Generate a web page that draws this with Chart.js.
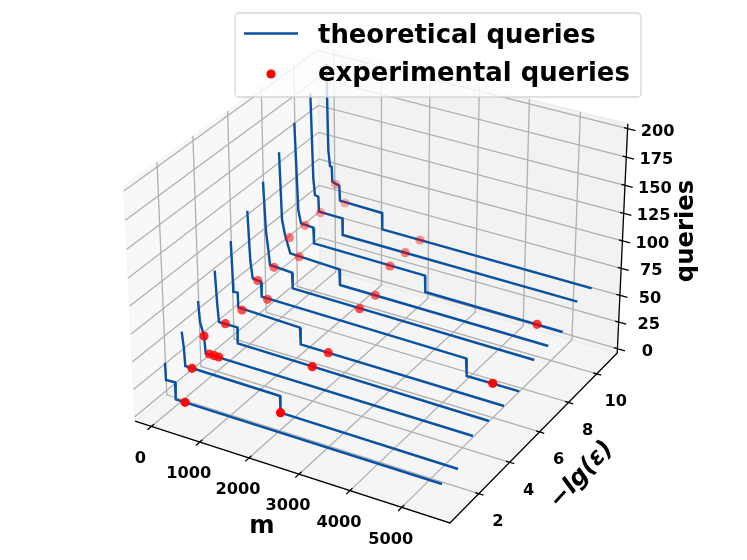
<!DOCTYPE html>
<html><head><meta charset="utf-8"><style>html,body{margin:0;background:#fff}canvas{display:block}</style>
<script src="https://cdn.jsdelivr.net/npm/chart.js@4"></script></head>
<body><canvas id="c" width="747" height="560"></canvas>
<script>
const lgEps=[0.9,1.9,2.9,3.9,4.9,5.9,6.8,7.8,8.8,9.8,10.8];
const traced=[
[[165,362.7],[166,380],[175,382.3],[175.7,399.3],[442,484]],
[[181.7,331.7],[184,349.3],[185.3,366],[280,396],[280.5,412.7],[458,469]],
[[198,301],[200,321.7],[204,336],[205.7,353.3],[473,436]],
[[214.7,270.7],[217.3,305],[219,322],[237.3,327.3],[237.7,343.3],[489,421]],
[[230.7,241],[233,283],[233.3,291.7],[237.7,292.7],[238.3,307.3],[300,327.7],[300.7,344.3],[504,406]],
[[247.3,210.7],[250.3,260.7],[252.7,278.3],[261,281.7],[261.7,296.7],[466,358.3],[466.7,376],[519.3,391.3]],
[[263,181.7],[266,231.7],[268.3,249.3],[270,265],[292,272.7],[292.7,288.3],[534.3,360]],
[[279,152.3],[282,219.3],[285,235],[290.3,253.3],[339.3,269.3],[340,285],[548.3,346]],
[[294.3,122.7],[298.3,210],[301,223.3],[313.3,227.7],[314,243.3],[425,275.7],[425.3,292],[562.7,332]],
[[310.3,93.3],[313.3,178.3],[315,195],[318.3,196.7],[319,211.7],[342.3,218.3],[342.7,235],[577.3,301.7]],
[[326.3,64],[328.3,150],[330,166],[331.7,166.7],[332.3,181.7],[339.3,185.7],[340,200.7],[382,213],[382.3,229.3],[591.7,288.3]]];
const tracedPts=[[0,185,402.3],[1,192,368.3],[1,280.5,412.7],[2,204,336],[2,209.3,354],[2,214.3,355.7],[2,218.7,357],[3,225.3,323.7],[3,312.3,366.7],[4,242,310],[4,328.3,352.7],[5,257.7,280.5],[5,267.5,299.3],[5,492.7,383.3],[6,274,267.3],[6,359.7,308.7],[7,289.3,237.7],[7,299.2,256.7],[7,375.3,295.3],[8,305,225.3],[8,390,266],[8,537,324.3],[9,320.5,212.7],[9,405.3,252.7],[10,335.7,184.3],[10,345,203],[10,420,240]];
const xTicks=[0,1000,2000,3000,4000,5000],yTicks=[2,4,6,8,10],zTicks=[0,25,50,75,100,125,150,175,200];
const xLim=[-215,5792],yLim=[0.42,11.27],zLim=[0,200];
const sx=303,sy=300,cx=380.6,cy=273;
const U=[0.866025,0.5,0],V=[-0.25,0.433013,0.866025],W=[0.433013,-0.75,0.5];
function proj(m,y,q){
  const d=[((m-xLim[0])/(xLim[1]-xLim[0])-0.5)*1.1429,((y-yLim[0])/(yLim[1]-yLim[0])-0.5)*1.1429,((q-zLim[0])/(zLim[1]-zLim[0])-0.5)*0.8572];
  const dot=(a)=>a[0]*d[0]+a[1]*d[1]+a[2]*d[2];
  const depth=dot(W),f=10/(10-depth);
  return {x:dot(U)*f,y:dot(V)*f,depth};
}
function toScreen(p){return [cx+sx*p.x,cy-sy*p.y];}
function invert(y,px,py){
  let m=2000,q=50;
  for(let i=0;i<8;i++){
    const a=toScreen(proj(m,y,q)),b=toScreen(proj(m+1,y,q)),c=toScreen(proj(m,y,q+1));
    const j=[b[0]-a[0],c[0]-a[0],b[1]-a[1],c[1]-a[1]],ex=px-a[0],ey=py-a[1],det=j[0]*j[3]-j[1]*j[2];
    m+=(ex*j[3]-j[1]*ey)/det;q+=(j[0]*ey-j[2]*ex)/det;
  }
  return [m,q];
}
const dx=(xLim[1]-xLim[0])/48,dy=(yLim[1]-yLim[0])/48,dz=(zLim[1]-zLim[0])/48;
const P={x0:xLim[0]-dx,x1:xLim[1]+dx,y0:yLim[0]-dy,y1:yLim[1]+dy,z0:zLim[0]-dz,z1:zLim[1]+dz};
const poly=(pts,o)=>Object.assign({data:pts.map(a=>proj(a[0],a[1],a[2])),showLine:true,pointRadius:0,borderWidth:1.3,tension:0,fill:false},o);
const ds=[];
ds.push(poly([[P.x0,P.y0,P.z0],[P.x0,P.y1,P.z0],[P.x0,P.y1,P.z1],[P.x0,P.y0,P.z1],[P.x0,P.y0,P.z0]],{fill:'shape',backgroundColor:'rgba(242,242,242,.5)',borderColor:'rgba(242,242,242,.5)'}));
ds.push(poly([[P.x0,P.y1,P.z0],[P.x1,P.y1,P.z0],[P.x1,P.y1,P.z1],[P.x0,P.y1,P.z1],[P.x0,P.y1,P.z0]],{fill:'shape',backgroundColor:'rgba(230,230,230,.5)',borderColor:'rgba(230,230,230,.5)'}));
ds.push(poly([[P.x0,P.y0,P.z0],[P.x1,P.y0,P.z0],[P.x1,P.y1,P.z0],[P.x0,P.y1,P.z0],[P.x0,P.y0,P.z0]],{fill:'shape',backgroundColor:'rgba(236,236,236,.5)',borderColor:'rgba(236,236,236,.5)'}));
const grid='#b0b0b0';
for(const t of xTicks)ds.push(poly([[t,P.y0,P.z0],[t,P.y1,P.z0],[t,P.y1,P.z1]],{borderColor:grid}));
for(const t of yTicks)ds.push(poly([[P.x1,t,P.z0],[P.x0,t,P.z0],[P.x0,t,P.z1]],{borderColor:grid}));
for(const t of zTicks)ds.push(poly([[P.x0,P.y0,t],[P.x0,P.y1,t],[P.x1,P.y1,t]],{borderColor:grid}));
ds.push(poly([[P.x0,P.y0,P.z0],[P.x1,P.y0,P.z0],[P.x1,P.y1,P.z0],[P.x1,P.y1,P.z1]],{borderColor:'#000'}));
for(const t of xTicks)ds.push(poly([[t,P.y0-0.22,P.z0],[t,P.y0+0.15,P.z0]],{borderColor:'#000'}));
for(const t of yTicks)ds.push(poly([[P.x1-70,t,P.z0],[P.x1+90,t,P.z0]],{borderColor:'#000'}));
for(const t of zTicks)ds.push(poly([[P.x1-70,P.y1,t],[P.x1+150,P.y1,t]],{borderColor:'#000'}));
traced.forEach((c,i)=>{const pts=[];c.forEach((s,k)=>{const a=invert(lgEps[i],s[0],s[1]);pts.push([a[0],lgEps[i],a[1]]);});ds.push(poly(pts,{borderColor:'#0a51a1',borderWidth:2.4}));});
const pp=tracedPts.map(t=>{const a=invert(lgEps[t[0]],t[1],t[2]);return proj(a[0],lgEps[t[0]],a[1]);});
const dmin=Math.min(...pp.map(p=>p.depth)),dmax=Math.max(...pp.map(p=>p.depth));
ds.push({data:pp,showLine:false,pointRadius:4.6,borderWidth:0,pointBackgroundColor:pp.map(p=>`rgba(255,0,0,${0.3+0.7*(p.depth-dmin)/(dmax-dmin)})`)});
ds.forEach((d,i)=>d.order=-i);
const labels={id:'labels',afterDraw(ch){
  const g=ch.ctx,sX=ch.scales.x,sY=ch.scales.y;
  const at=(p)=>[sX.getPixelForValue(p.x),sY.getPixelForValue(p.y)];
  const txt=(s,x,y,font,rot)=>{g.save();g.translate(x,y);g.rotate(rot||0);g.font=font;g.fillStyle='#000';g.textAlign='center';g.textBaseline='middle';g.fillText(s,0,0);g.restore();};
  const tickFont='bold 16.2px "DejaVu Sans"',axFont='bold 24.3px "DejaVu Sans"';
  xTicks.forEach(t=>{const a=at(proj(t,P.y0,P.z0));txt(String(t),a[0]-11,a[1]+32,tickFont);});
  yTicks.forEach(t=>{const a=at(proj(P.x1,t,P.z0));txt(String(t),a[0]+19,a[1]+28,tickFont);});
  zTicks.forEach(t=>{const a=at(proj(P.x1,P.y1,t));txt(String(t),a[0]+30,a[1]+3,tickFont);});
  txt('m',262,527,axFont);
  txt('−lg(ε)',581.7,475,'italic '+axFont,-0.83);
  txt('queries',687,231,axFont,-Math.PI/2);
  // legend box
  g.save();g.beginPath();g.roundRect(235,13,406,84,4);g.fillStyle='rgba(255,255,255,.8)';g.fill();g.strokeStyle='rgba(204,204,204,.8)';g.lineWidth=1.3;g.stroke();
  g.strokeStyle='#0a51a1';g.lineWidth=2.4;g.beginPath();g.moveTo(244,33.5);g.lineTo(298,33.5);g.stroke();
  g.fillStyle='#f00';g.beginPath();g.arc(271,74,4.6,0,7);g.fill();
  g.font='bold 25.9px "DejaVu Sans"';g.fillStyle='#000';g.textBaseline='alphabetic';
  g.fillText('theoretical queries',318,43);g.fillText('experimental queries',318,81);
  g.restore();
}};
new Chart(document.getElementById('c'),{type:'scatter',data:{datasets:ds},plugins:[labels],options:{responsive:false,animation:false,devicePixelRatio:1,layout:{padding:0,autoPadding:false},plugins:{legend:{display:false},tooltip:{enabled:false}},
scales:{x:{display:false,type:'linear',min:-cx/sx,max:(747-cx)/sx},y:{display:false,type:'linear',min:(cy-560)/sy,max:cy/sy}}}});
</script></body></html>
